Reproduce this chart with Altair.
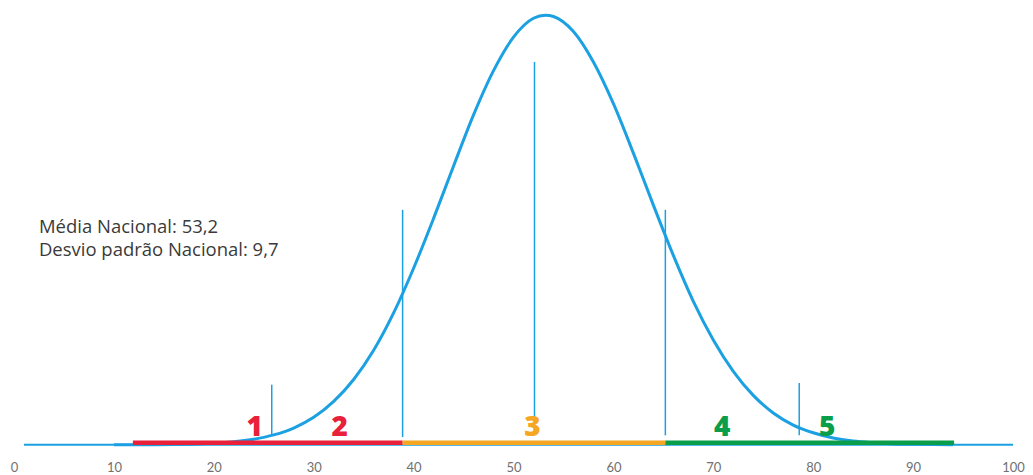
import altair as alt
import pandas as pd

# Curve (height as % of peak)
curve_x = [10, 14, 18, 20, 22, 24, 26, 28, 30, 32, 34, 36, 38, 40, 42, 44, 46, 48, 50, 52, 53.2,
           54, 56, 58, 60, 62, 64, 66, 68, 70, 72, 74, 76, 78, 80, 82, 84, 86, 88, 90, 94]
curve_y = [0.0, 0.0, 0.1, 0.4, 0.7, 1.3, 2.3, 3.9, 6.4, 10.1, 15.2, 22.0, 30.7, 41.1, 52.7, 64.9, 76.8, 87.1, 94.9, 99.3, 100,
           99.7, 96.2, 89.1, 79.4, 67.9, 55.8, 44.1, 33.4, 24.4, 17.1, 11.5, 7.4, 4.6, 2.8, 1.6, 0.9, 0.5, 0.2, 0.1, 0.0]

# Coloured bands along the baseline
band_start = [11.9, 38.9, 65.2]
band_end = [38.9, 65.2, 94.1]
band_color = ["#e8203a", "#f5a623", "#0a9e4b"]

# Vertical cut lines
cut_x = [25.8, 38.9, 52.1, 65.2, 78.6]
cut_top = [14.0, 54.7, 89.1, 54.7, 14.4]
cut_bottom = [2.2, 1.8, 2.2, 2.2, 2.2]

# Group labels
grp_label = ["1", "2", "3", "4", "5"]
grp_x = [24.1, 32.6, 51.9, 70.9, 81.4]
grp_color = ["#e8203a", "#e8203a", "#f5a623", "#0a9e4b", "#0a9e4b"]

tick_values = [0, 10, 20, 30, 40, 50, 60, 70, 80, 90, 100]

note_text = "Média Nacional: 53,2\nDesvio padrão Nacional: 9,7"
note_x = [2.5]
note_y = [49.3]

BLUE = "#1ba1e2"

xscale = alt.Scale(domain=[-0.6, 100.6], nice=False, zero=False)
yscale = alt.Scale(domain=[0, 100], nice=False, zero=False)

curve_df = pd.DataFrame({"x": curve_x, "y": curve_y})
band_df = pd.DataFrame({"x": band_start, "x2": band_end, "c": band_color, "y": [0] * 3})
cut_df = pd.DataFrame({"x": cut_x, "y": cut_bottom, "y2": cut_top})
grp_df = pd.DataFrame({"x": grp_x, "t": grp_label, "c": grp_color, "y": [0] * 5})
base_df = pd.DataFrame({"x": [1], "x2": [100], "y": [0]})
note_df = pd.DataFrame({"x": note_x, "y": note_y, "t": [note_text]})

xaxis = alt.Axis(values=tick_values, grid=False, ticks=False, domain=False, title=None,
                 labelColor="#707070", labelFontSize=13, labelFont="Lato", labelPadding=17)

curve = alt.Chart(curve_df).mark_line(color=BLUE, strokeWidth=3, interpolate="monotone").encode(
    x=alt.X("x:Q", scale=xscale, axis=xaxis),
    y=alt.Y("y:Q", scale=yscale, axis=None),
)

baseline = alt.Chart(base_df).mark_rule(color=BLUE, strokeWidth=2).encode(
    x=alt.X("x:Q", scale=xscale),
    x2="x2:Q",
    y=alt.Y("y:Q", scale=yscale),
)

bands = alt.Chart(band_df).mark_rule(strokeWidth=4.5, yOffset=-2).encode(
    x=alt.X("x:Q", scale=xscale),
    x2="x2:Q",
    y=alt.Y("y:Q", scale=yscale),
    color=alt.Color("c:N", scale=None),
)

cuts = alt.Chart(cut_df).mark_rule(color=BLUE, strokeWidth=1.5).encode(
    x=alt.X("x:Q", scale=xscale),
    y=alt.Y("y:Q", scale=yscale),
    y2="y2:Q",
)

groups = alt.Chart(grp_df).mark_text(font="Open Sans", fontWeight=800, fontSize=28,
                                     baseline="alphabetic", yOffset=-9).encode(
    x=alt.X("x:Q", scale=xscale),
    y=alt.Y("y:Q", scale=yscale),
    text="t:N",
    color=alt.Color("c:N", scale=None),
)

note = alt.Chart(note_df).mark_text(font="Open Sans", fontSize=18.5, color="#3a3a3a", align="left",
                                    baseline="alphabetic", lineHeight=23, lineBreak="\n").encode(
    x=alt.X("x:Q", scale=xscale),
    y=alt.Y("y:Q", scale=yscale),
    text="t:N",
)

chart = alt.layer(curve, baseline, bands, cuts, groups, note).properties(
    width=1012, height=430,
    autosize=alt.AutoSizeParams(type="none"),
    padding={"left": 0, "top": 7, "right": 6, "bottom": 30},
).configure_view(stroke=None)

chart.save("out.html", embed_options={"renderer": "svg", "actions": False})
